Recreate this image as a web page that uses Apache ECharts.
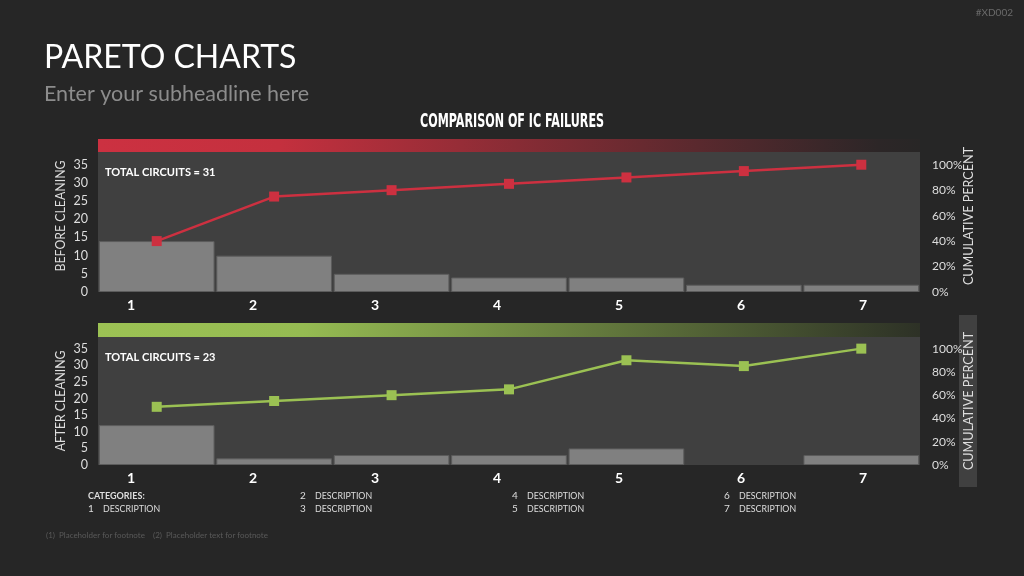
<!DOCTYPE html>
<html>
<head>
    <meta charset="utf-8"/>
    <title>Pareto Charts</title>
    <script src="https://cdn.jsdelivr.net/npm/echarts@6/dist/echarts.min.js"></script>
    <style>
        html, body { margin: 0; padding: 0; background: #262626; }
        #main { width: 1024px; height: 576px; }
    </style>
</head>
<body>
<div id="main"></div>
<script>
    // 数据
    var categories = ['1', '2', '3', '4', '5', '6', '7'];
    var beforeCounts = [14, 10, 5, 4, 4, 2, 2];
    var beforeCumPct = [40, 75, 80, 85, 90, 95, 100];
    var afterCounts = [12, 2, 3, 3, 5, 0, 3];
    var afterCumPct = [50, 55, 60, 65, 90, 85, 100];
    var descriptions = ['DESCRIPTION', 'DESCRIPTION', 'DESCRIPTION', 'DESCRIPTION', 'DESCRIPTION', 'DESCRIPTION', 'DESCRIPTION'];
    var totals = [31, 23];

    var FONT = 'Lato, "Open Sans", sans-serif';
    var LABEL_COLOR = '#dedede';

    function countAxis(gridIndex) {
        return {
            type: 'value', gridIndex: gridIndex, min: 0, max: 38.5, interval: 5,
            axisLine: { show: false }, axisTick: { show: false }, splitLine: { show: false },
            axisLabel: { color: LABEL_COLOR, fontSize: 12.5, fontFamily: FONT, margin: 10, showMaxLabel: false }
        };
    }

    function pctAxis(gridIndex) {
        return {
            type: 'value', gridIndex: gridIndex, position: 'right', min: 0, max: 110, interval: 20,
            axisLine: { show: false }, axisTick: { show: false }, splitLine: { show: false },
            axisLabel: {
                color: LABEL_COLOR, fontSize: 12, fontFamily: FONT, margin: 12, showMaxLabel: false,
                formatter: function (v) { return Math.round(v) + '%'; }
            }
        };
    }

    function plotAxis(gridIndex) {
        return {
            type: 'category', gridIndex: gridIndex, data: categories,
            axisLine: { show: false }, axisTick: { show: false }, axisLabel: { show: false }
        };
    }

    function labelAxis(gridIndex) {
        return {
            type: 'category', gridIndex: gridIndex, data: categories,
            axisLine: { show: false }, axisTick: { show: false },
            axisLabel: { color: '#ffffff', fontSize: 14, fontWeight: 'bold', fontFamily: FONT, margin: 6 }
        };
    }

    function barSeries(xi, yi, data) {
        return {
            type: 'bar', xAxisIndex: xi, yAxisIndex: yi,
            // 高度为 0 的柱子不画边框
            data: data.map(function (v) {
                return v === 0 ? { value: v, itemStyle: { borderWidth: 0 } } : v;
            }),
            barCategoryGap: '1.5%',
            itemStyle: { color: '#808080', borderColor: '#5c5c5c', borderWidth: 1 }
        };
    }

    function lineSeries(xi, yi, data, color) {
        return {
            type: 'line', xAxisIndex: xi, yAxisIndex: yi, data: data,
            symbol: 'rect', symbolSize: 10,
            lineStyle: { color: color, width: 2.5 },
            itemStyle: { color: color }
        };
    }

    // 底部类别说明
    var legendTexts = [{
        type: 'text', x: 88, y: 496, scaleX: 0.9,
        style: { text: 'CATEGORIES:', font: 'bold 10px ' + FONT, fill: LABEL_COLOR, textVerticalAlign: 'middle' }
    }];
    descriptions.forEach(function (d, i) {
        var n = i + 1;
        var col = Math.floor(n / 2), row = n % 2;
        var x = 88 + col * 212, y = 496 + row * 13;
        legendTexts.push({
            type: 'text', x: x, y: y,
            style: { text: categories[i], font: '10px ' + FONT, fill: LABEL_COLOR, textVerticalAlign: 'middle' }
        });
        legendTexts.push({
            type: 'text', x: x + 15, y: y, scaleX: 0.88,
            style: { text: d, font: '10px ' + FONT, fill: LABEL_COLOR, textVerticalAlign: 'middle' }
        });
    });

    function vText(text, x, y, sx) {
        return {
            type: 'text', x: x, y: y, rotation: Math.PI / 2, scaleX: sx,
            style: { text: text, font: '14px ' + FONT, fill: LABEL_COLOR, textAlign: 'center', textVerticalAlign: 'middle' }
        };
    }

    var chart = echarts.init(document.getElementById('main'));
    var option = {
        backgroundColor: '#262626',
        animation: false,
        grid: [
            { left: 98, top: 152, width: 822, height: 140, show: true, backgroundColor: '#404040', borderWidth: 0 },
            { left: 98, top: 337, width: 822, height: 128, show: true, backgroundColor: '#404040', borderWidth: 0 },
            { left: 70, top: 291, width: 854, height: 1 },
            { left: 70, top: 464, width: 854, height: 1 }
        ],
        xAxis: [plotAxis(0), plotAxis(1), labelAxis(2), labelAxis(3)],
        yAxis: [
            countAxis(0), pctAxis(0), countAxis(1), pctAxis(1),
            { type: 'value', gridIndex: 2, show: false },
            { type: 'value', gridIndex: 3, show: false }
        ],
        series: [
            barSeries(0, 0, beforeCounts),
            lineSeries(0, 1, beforeCumPct, '#cd3040'),
            barSeries(1, 2, afterCounts),
            lineSeries(1, 3, afterCumPct, '#9bc153')
        ],
        graphic: [
            // 渐变色条
            {
                type: 'rect', shape: { x: 98, y: 139, width: 822, height: 13 },
                style: {
                    fill: new echarts.graphic.LinearGradient(0, 0, 1, 0, [
                        { offset: 0, color: '#cc3141' }, { offset: 0.22, color: '#c4303e' },
                        { offset: 0.95, color: '#2c2627' }, { offset: 1, color: '#282626' }
                    ])
                }
            },
            {
                type: 'rect', shape: { x: 98, y: 323, width: 822, height: 14 },
                style: {
                    fill: new echarts.graphic.LinearGradient(0, 0, 1, 0, [
                        { offset: 0, color: '#9cc254' }, { offset: 0.25, color: '#95bb52' },
                        { offset: 1, color: '#2d3126' }
                    ])
                }
            },
            { type: 'rect', shape: { x: 959, y: 315, width: 18, height: 172 }, style: { fill: '#404040' } },
            // 标题
            {
                type: 'text', x: 44, y: 58,
                style: { text: 'PARETO CHARTS', font: '32px ' + FONT, fill: '#ffffff', textVerticalAlign: 'middle' }
            },
            {
                type: 'text', x: 44, y: 94,
                style: { text: 'Enter your subheadline here', font: '21.5px ' + FONT, fill: '#8c8c8c', textVerticalAlign: 'middle' }
            },
            {
                type: 'text', x: 512, y: 122, scaleX: 0.62,
                style: {
                    text: 'COMPARISON OF IC FAILURES', font: 'bold 20px "DejaVu Sans Condensed", "DejaVu Sans", sans-serif',
                    fill: '#ffffff', textAlign: 'center', textVerticalAlign: 'middle'
                }
            },
            {
                type: 'text', x: 1013, y: 13,
                style: { text: '#XD002', font: '10px ' + FONT, fill: '#6a6a6a', textAlign: 'right', textVerticalAlign: 'middle' }
            },
            {
                type: 'text', x: 105, y: 172, scaleX: 0.92,
                style: { text: 'TOTAL CIRCUITS = ' + totals[0], font: 'bold 12px ' + FONT, fill: '#ffffff', textVerticalAlign: 'middle' }
            },
            {
                type: 'text', x: 105, y: 357, scaleX: 0.92,
                style: { text: 'TOTAL CIRCUITS = ' + totals[1], font: 'bold 12px ' + FONT, fill: '#ffffff', textVerticalAlign: 'middle' }
            },
            vText('BEFORE CLEANING', 60, 216, 0.88),
            vText('AFTER CLEANING', 60, 401, 0.87),
            vText('CUMULATIVE PERCENT', 968, 216, 0.9),
            vText('CUMULATIVE PERCENT', 968, 401, 0.9),
            {
                type: 'text', x: 46, y: 535,
                style: {
                    text: '(1)  Placeholder for footnote    (2)  Placeholder text for footnote',
                    font: '8px ' + FONT, fill: '#5a5a5a', textVerticalAlign: 'middle'
                }
            }
        ].concat(legendTexts)
    };
    chart.setOption(option);
</script>
</body>
</html>
